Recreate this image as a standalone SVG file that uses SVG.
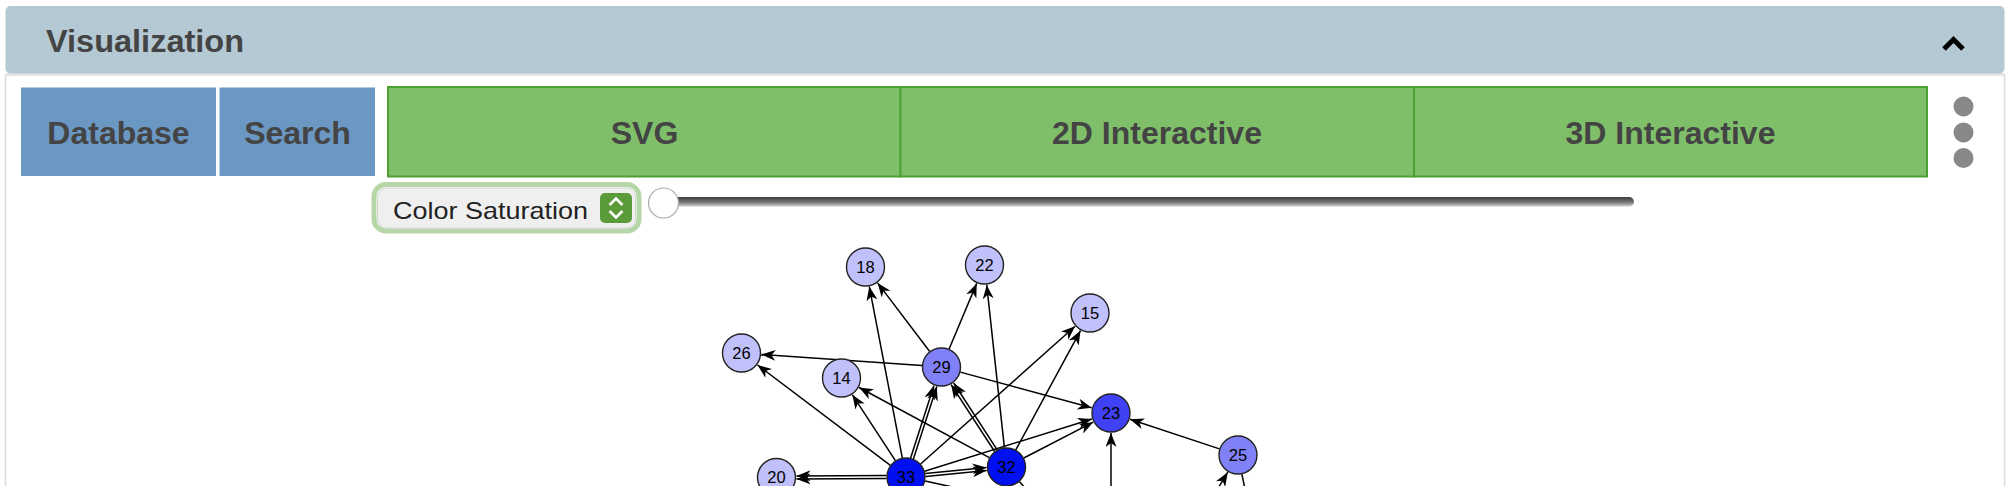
<svg xmlns="http://www.w3.org/2000/svg" width="2014" height="486" viewBox="0 0 2014 486">
<defs>
<style>
.btn{font-family:"Liberation Sans",Arial,sans-serif;font-weight:bold;font-size:32px;fill:#444;text-anchor:middle}
.blue{fill:#6b97c3}
.green{fill:#80bf6a;stroke:#4da032;stroke-width:2}
.node circle{stroke:#222;stroke-width:1.4}
.node text{font-family:"Liberation Sans",Arial,sans-serif;font-size:16.5px;fill:#000;text-anchor:middle}
.l1{fill:#c0c0fa}
.l2{fill:#8080f7}
.l3{fill:#4040f5}
.l4{fill:#0010f0}
#connectors line{stroke:#000;stroke-width:1.5;fill:none}
#connectors line.a{marker-end:url(#arrow)}
.dot{fill:#888}
</style>
<marker id="arrow" markerUnits="userSpaceOnUse" markerWidth="16" markerHeight="12" refX="14" refY="5.5" orient="auto">
<path d="M0,0 L14,5.5 L0,11 L4,5.5 Z" fill="#000"/>
</marker>
<linearGradient id="track" x1="0" y1="0" x2="0" y2="1">
<stop offset="0" stop-color="#3a3a3a"/>
<stop offset="0.55" stop-color="#777"/>
<stop offset="1" stop-color="#cfcfcf"/>
</linearGradient>
</defs>
<rect width="2014" height="486" fill="#fff"/>

<g id="panel">
<path d="M5.5,486 V75 H2004.5 V486" fill="none" stroke="#dcdcdc" stroke-width="1.5"/>
<rect x="5.5" y="73" width="1999" height="3" fill="#e3e3e3"/>
</g>

<g id="header">
<rect x="5.5" y="6" width="1999" height="67.5" rx="5" fill="#b4c9d3"/>
<text x="46" y="52" font-family="Liberation Sans, Arial, sans-serif" font-weight="bold" font-size="32" fill="#444" textLength="198" lengthAdjust="spacingAndGlyphs">Visualization</text>
<polyline points="1944,49 1953.5,39.5 1963,49" fill="none" stroke="#000" stroke-width="5"/>
</g>

<g id="btn-database">
<rect class="blue" x="21" y="87.5" width="195" height="88.5"/>
<text class="btn" x="118.5" y="143.5">Database</text>
</g>
<g id="btn-search">
<rect class="blue" x="219.5" y="87.5" width="155.5" height="88.5"/>
<text class="btn" x="297.5" y="143.5">Search</text>
</g>
<g id="tab-svg">
<rect class="green" x="388" y="87" width="512.5" height="89.5"/>
<text class="btn" x="644.5" y="143.5">SVG</text>
</g>
<g id="tab-2d">
<rect class="green" x="900.5" y="87" width="513.5" height="89.5"/>
<text class="btn" x="1157" y="143.5">2D Interactive</text>
</g>
<g id="tab-3d">
<rect class="green" x="1414" y="87" width="513" height="89.5"/>
<text class="btn" x="1670.5" y="143.5">3D Interactive</text>
</g>
<g id="menu-dots">
<circle class="dot" cx="1963.5" cy="106.5" r="10"/>
<circle class="dot" cx="1963.5" cy="132.5" r="10"/>
<circle class="dot" cx="1963.5" cy="158" r="10"/>
</g>

<g id="color-select">
<rect x="374" y="184.5" width="265" height="46.5" rx="12" fill="none" stroke="#b5d6a7" stroke-width="5"/>
<rect x="377.5" y="188" width="258" height="40" rx="9" fill="#efefef" stroke="#d4d4d4" stroke-width="1"/>
<text x="393" y="218.5" font-family="Liberation Sans, Arial, sans-serif" font-size="24" fill="#222" textLength="195" lengthAdjust="spacingAndGlyphs">Color Saturation</text>
<rect x="600" y="193" width="32" height="30" rx="5" fill="#5a9c3a"/>
<polyline points="609.5,205 616,198.5 622.5,205" fill="none" stroke="#fff" stroke-width="2.5"/>
<polyline points="609.5,211 616,217.5 622.5,211" fill="none" stroke="#fff" stroke-width="2.5"/>
</g>

<g id="slider">
<rect x="663" y="197" width="971" height="9.5" rx="4.75" fill="url(#track)"/>
<circle cx="663.5" cy="203" r="15" fill="#fff" stroke="#aaa" stroke-width="1.2"/>
</g>

<g id="connectors">
<line class="a" x1="929.7" y1="351.5" x2="877.6" y2="282.9"/>
<line class="a" x1="902.3" y1="457.9" x2="869.3" y2="286.6"/>
<line class="a" x1="949.1" y1="349" x2="976.7" y2="283.4"/>
<line class="a" x1="1004.4" y1="447.6" x2="986.7" y2="284.9"/>
<line class="a" x1="922" y1="365.6" x2="761.5" y2="354.4"/>
<line class="a" x1="890.4" y1="465.3" x2="757.5" y2="365"/>
<line class="a" x1="895.4" y1="460.7" x2="852.4" y2="394.8"/>
<line class="a" x1="989.3" y1="457.7" x2="859.1" y2="387.5"/>
<line class="a" x1="913.4" y1="458.9" x2="936.8" y2="386.5"/>
<line class="a" x1="910.6" y1="457.9" x2="934" y2="385.5"/>
<line class="a" x1="997.2" y1="449.9" x2="953.7" y2="383"/>
<line class="a" x1="994.6" y1="451.5" x2="951.1" y2="384.6"/>
<line class="a" x1="960.3" y1="372.1" x2="1091.7" y2="407.8"/>
<line class="a" x1="920.6" y1="464" x2="1075.1" y2="326.3"/>
<line class="a" x1="1015.8" y1="449.9" x2="1080.5" y2="330.6"/>
<line class="a" x1="886.5" y1="475.5" x2="796.5" y2="475.9"/>
<line class="a" x1="886.5" y1="478.5" x2="796.5" y2="478.9"/>
<line class="a" x1="925.3" y1="473.6" x2="986.5" y2="467.5"/>
<line class="a" x1="925.5" y1="476.6" x2="986.7" y2="470.5"/>
<line class="a" x1="924.6" y1="471.2" x2="1091.9" y2="419"/>
<line class="a" x1="1023.8" y1="458" x2="1093.2" y2="422.2"/>
<line class="a" x1="1219.5" y1="448.9" x2="1130" y2="419.3"/>
<line class="a" x1="1111" y1="600" x2="1111" y2="433"/>
<line class="a" x1="1150" y1="602" x2="1227.7" y2="472.2"/>
<line x1="1241.9" y1="474.1" x2="1258" y2="553"/>
<line x1="925.1" y1="481.1" x2="1150.5" y2="529.5"/>
<line x1="1019.4" y1="481.6" x2="1072.5" y2="542"/>
</g>

<g id="node-18" class="node"><circle class="l1" cx="865.5" cy="267" r="19"/><text x="865.5" y="272.8">18</text></g>
<g id="node-22" class="node"><circle class="l1" cx="984.5" cy="265" r="19"/><text x="984.5" y="270.8">22</text></g>
<g id="node-26" class="node"><circle class="l1" cx="741.5" cy="353" r="19"/><text x="741.5" y="358.8">26</text></g>
<g id="node-14" class="node"><circle class="l1" cx="841.5" cy="378" r="19"/><text x="841.5" y="383.8">14</text></g>
<g id="node-15" class="node"><circle class="l1" cx="1090" cy="313" r="19"/><text x="1090" y="318.8">15</text></g>
<g id="node-20" class="node"><circle class="l1" cx="776.5" cy="477.5" r="19"/><text x="776.5" y="483.3">20</text></g>
<g id="node-29" class="node"><circle class="l2" cx="941.5" cy="367" r="19"/><text x="941.5" y="372.8">29</text></g>
<g id="node-25" class="node"><circle class="l2" cx="1238" cy="455" r="19"/><text x="1238" y="460.8">25</text></g>
<g id="node-23" class="node"><circle class="l3" cx="1111" cy="413" r="19"/><text x="1111" y="418.8">23</text></g>
<g id="node-32" class="node"><circle class="l4" cx="1006.5" cy="467" r="19"/><text x="1006.5" y="472.8">32</text></g>
<g id="node-33" class="node"><circle class="l4" cx="906" cy="477" r="19"/><text x="906" y="482.8">33</text></g>
</svg>
